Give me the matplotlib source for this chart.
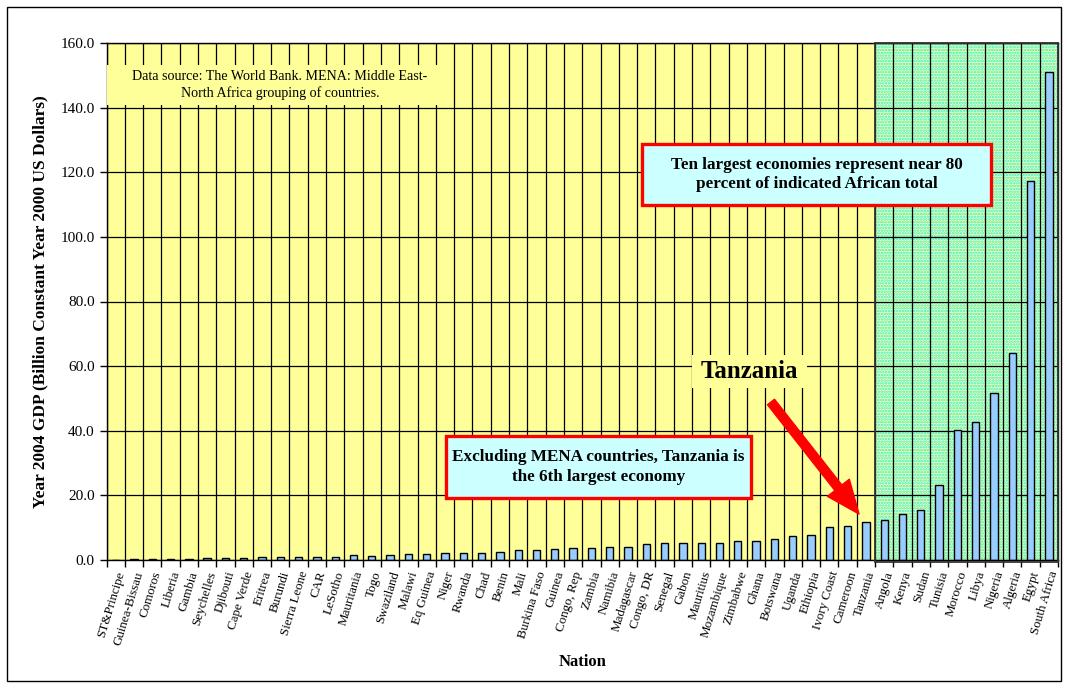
import numpy as np
import matplotlib
matplotlib.use("Agg")
import matplotlib.pyplot as plt
from matplotlib.patches import Rectangle

nations = ["ST&Principe", "Guinea-Bissau", "Comoros", "Liberia", "Gambia", "Seychelles",
           "Djibouti", "Cape Verde", "Eritrea", "Burundi", "Sierra Leone", "CAR", "LeSotho",
           "Mauritania", "Togo", "Swaziland", "Malawi", "Eq Guinea", "Niger", "Rwanda", "Chad",
           "Benin", "Mali", "Burkina Faso", "Guinea", "Congo, Rep", "Zambia", "Namibia",
           "Madagascar", "Congo, DR", "Senegal", "Gabon", "Mauritius", "Mozambique",
           "Zimbabwe", "Ghana", "Botswana", "Uganda", "Ethiopia", "Ivory Coast", "Cameroon",
           "Tanzania", "Angola", "Kenya", "Sudan", "Tunisia", "Morocco", "Libya", "Nigeria",
           "Algeria", "Egypt", "South Africa"]
gdp = [0.1, 0.2, 0.2, 0.4, 0.4, 0.6, 0.6, 0.6, 0.8, 0.8, 0.8, 1.0, 1.0, 1.4,
       1.3, 1.4, 1.9, 2.0, 2.1, 2.2, 2.3, 2.6, 3.0, 3.1, 3.4, 3.6, 3.7, 3.9,
       4.1, 4.8, 5.2, 5.3, 5.3, 5.4, 5.9, 6.0, 6.5, 7.3, 7.8, 10.2, 10.6,
       11.8, 12.4, 14.2, 15.4, 23.3, 40.3, 42.6, 51.8, 64.2, 117.3, 151.0]
yticks = [0, 20, 40, 60, 80, 100, 120, 140, 160]

SERIF = "Liberation Serif"
plt.rcParams["font.family"] = SERIF
plt.rcParams["hatch.linewidth"] = 1.2

W, H = 1067, 688
fig = plt.figure(figsize=(W / 100, H / 100), dpi=100)
L, R, T, B = 106.5, 1058, 43, 560
ax = fig.add_axes([L / W, 1 - B / H, (R - L) / W, (B - T) / H])

def pa(px, py):
    return ((px - L) / (R - L), (B - py) / (B - T))

yellow = "#FFFF99"
ax.set_facecolor(yellow)
n = len(nations)
x = np.arange(n)
ax.set_xlim(-0.5, n - 0.5)
ax.set_ylim(0, 160)

# highlighted region of ten largest economies
ax.add_patch(Rectangle((n - 10.5, 0), 10, 160, facecolor=yellow, edgecolor="#22EEEE",
                       hatch="......", linewidth=0, zorder=0.5))
ax.add_patch(Rectangle((n - 10.5, -0.6), 10, 160.6, facecolor="none", edgecolor="#333333",
                       linewidth=1.3, zorder=3, clip_on=False))

ax.bar(x, gdp, width=0.4, color="#99CCFF", edgecolor="black", linewidth=1.0, zorder=2)

ax.set_xticks(np.arange(-0.5, n, 1))
ax.set_xticklabels([])
ax.set_xticks(x, minor=True)
ax.set_xticklabels(nations, minor=True, rotation=73, ha="right", va="top",
                   rotation_mode="anchor", fontsize=9.4)
ax.tick_params(axis="x", which="major", length=5, direction="out", width=1)
ax.tick_params(axis="x", which="minor", length=0, pad=7)
ax.set_yticks(yticks)
ax.set_yticklabels([f"{v:.1f}" for v in yticks], fontsize=11)
ax.tick_params(axis="y", length=5, direction="out", width=1)
ax.grid(True, which="major", color="black", linewidth=0.9, zorder=1)
ax.set_axisbelow(True)
for s in ax.spines.values():
    s.set_color("black")
    s.set_linewidth(1)

ax.set_ylabel("Year 2004 GDP (Billion Constant Year 2000 US Dollars)", fontsize=12.5,
              fontweight="bold", labelpad=8)
ax.yaxis.set_label_coords((40 - L) / (R - L), 0.5)
ax.set_xlabel("Nation", fontsize=12, fontweight="bold", labelpad=6)
ax.xaxis.set_label_coords(0.5, (B - 662) / (B - T))
ax.xaxis.label.set_va("center")
ax.yaxis.label.set_va("center")

# Data source box
x0, y0 = pa(107, 105); x1, y1 = pa(453, 65)
ax.add_patch(Rectangle((x0, y0), x1 - x0, y1 - y0, transform=ax.transAxes,
                       facecolor=yellow, edgecolor="none", zorder=4))
ax.text((x0 + x1) / 2, (y0 + y1) / 2,
        "Data source: The World Bank. MENA: Middle East-\nNorth Africa grouping of countries.",
        transform=ax.transAxes, ha="center", va="center", fontsize=10.1,
        linespacing=1.25, zorder=5)

# Ten largest box
x0, y0 = pa(642, 205); x1, y1 = pa(991, 144)
ax.add_patch(Rectangle((x0, y0), x1 - x0, y1 - y0, transform=ax.transAxes,
                       facecolor="#CCFFFF", edgecolor="#FF0000", linewidth=2.4, zorder=4))
ax.text((x0 + x1) / 2, (y0 + y1) / 2,
        "Ten largest economies represent near 80\npercent of indicated African total",
        transform=ax.transAxes, ha="center", va="center", fontsize=12.3,
        fontweight="bold", linespacing=1.3, zorder=5)

# Excluding MENA box
x0, y0 = pa(446, 498); x1, y1 = pa(751, 436)
ax.add_patch(Rectangle((x0, y0), x1 - x0, y1 - y0, transform=ax.transAxes,
                       facecolor="#CCFFFF", edgecolor="#FF0000", linewidth=2.4, zorder=4))
ax.text((x0 + x1) / 2, (y0 + y1) / 2,
        "Excluding MENA countries, Tanzania is\nthe 6th largest economy",
        transform=ax.transAxes, ha="center", va="center", fontsize=12.3,
        fontweight="bold", linespacing=1.3, zorder=5)

# Tanzania label
x0, y0 = pa(692, 388); x1, y1 = pa(807, 355)
ax.add_patch(Rectangle((x0, y0), x1 - x0, y1 - y0, transform=ax.transAxes,
                       facecolor=yellow, edgecolor="none", zorder=4))
ax.text((x0 + x1) / 2, (y0 + y1) / 2, "Tanzania", transform=ax.transAxes,
        ha="center", va="center", fontsize=18, fontweight="bold", zorder=5)

# Arrow
ax.annotate("", xy=pa(859, 514), xytext=pa(771, 402), xycoords="axes fraction",
            textcoords="axes fraction",
            arrowprops=dict(arrowstyle="simple,head_length=1.2,head_width=1.0,tail_width=0.32",
                            color="#FF0000", mutation_scale=20, shrinkA=0, shrinkB=0),
            zorder=6)

# outer frame
fig.patches.append(Rectangle((7 / W, 1 - 681 / H), (1061 - 7) / W, (681 - 7) / H,
                             transform=fig.transFigure, facecolor="none",
                             edgecolor="black", linewidth=1.0))

fig.savefig("out.png", dpi=100)
